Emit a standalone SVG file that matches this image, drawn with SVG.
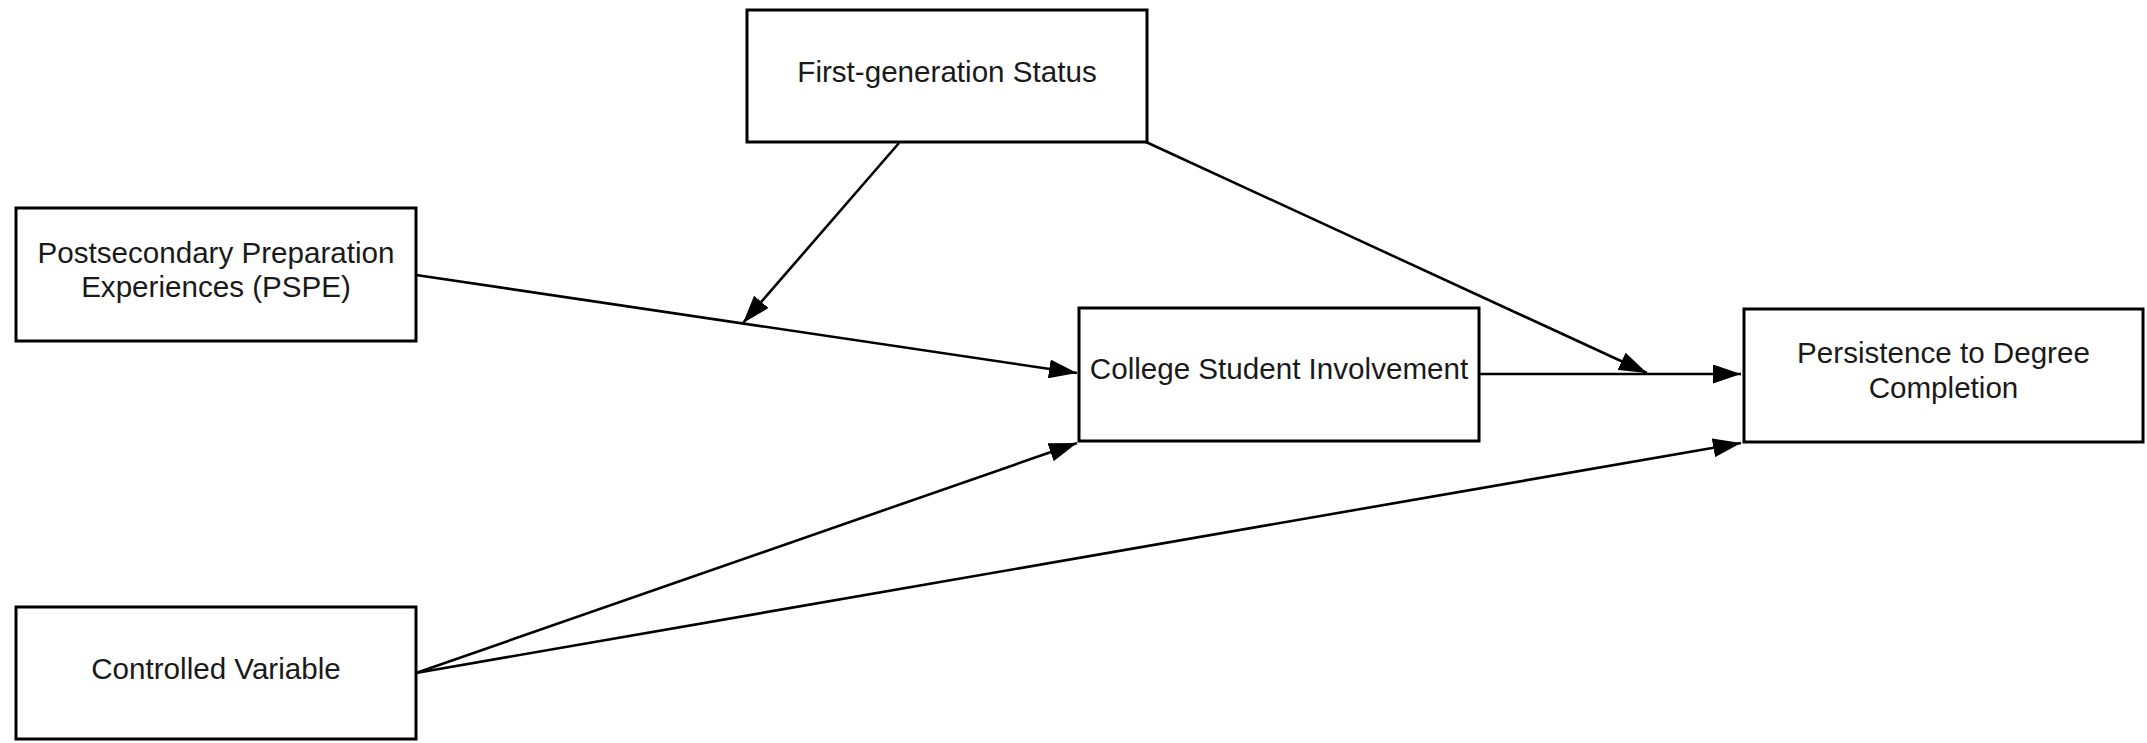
<svg xmlns="http://www.w3.org/2000/svg" width="2147" height="743" viewBox="0 0 2147 743">
<style>
.box{fill:#fff;stroke:#000;stroke-width:3}
.lbl{font-family:"Liberation Sans",Arial,sans-serif;font-size:29.6px;fill:#1a1a1a;text-anchor:middle}
.edge{fill:none;stroke:#000;stroke-width:2.6;marker-end:url(#ah)}
</style>
<defs>
<marker id="ah" viewBox="0 0 28 19" refX="28" refY="9.5" markerWidth="28" markerHeight="19" markerUnits="userSpaceOnUse" orient="auto">
<path d="M0,0 L28,9.5 L0,19 Z" fill="#000"/>
</marker>
</defs>
<rect width="2147" height="743" fill="#fff"/>
<g id="connectors">
<line class="edge" x1="416" y1="275" x2="1077" y2="373"/>
<line class="edge" x1="899" y1="143" x2="743" y2="323"/>
<line class="edge" x1="1146" y1="142" x2="1647" y2="373"/>
<line class="edge" x1="1479" y1="374" x2="1741" y2="374"/>
<line class="edge" x1="416" y1="673" x2="1077" y2="443"/>
<line class="edge" x1="416" y1="673" x2="1741" y2="443"/>
</g>
<g id="node-firstgen">
<rect class="box" x="747" y="10" width="400" height="132"/>
<text class="lbl" x="947" y="82">First-generation Status</text>
</g>
<g id="node-pspe">
<rect class="box" x="16" y="208" width="400" height="133"/>
<text class="lbl" x="216" y="263">Postsecondary Preparation</text>
<text class="lbl" x="216" y="297">Experiences (PSPE)</text>
</g>
<g id="node-controlled">
<rect class="box" x="16" y="607" width="400" height="132"/>
<text class="lbl" x="216" y="679">Controlled Variable</text>
</g>
<g id="node-involvement">
<rect class="box" x="1079" y="308" width="400" height="133"/>
<text class="lbl" x="1279" y="379">College Student Involvement</text>
</g>
<g id="node-persistence">
<rect class="box" x="1744" y="309" width="399" height="133"/>
<text class="lbl" x="1943.5" y="363">Persistence to Degree</text>
<text class="lbl" x="1943.5" y="398">Completion</text>
</g>
</svg>
